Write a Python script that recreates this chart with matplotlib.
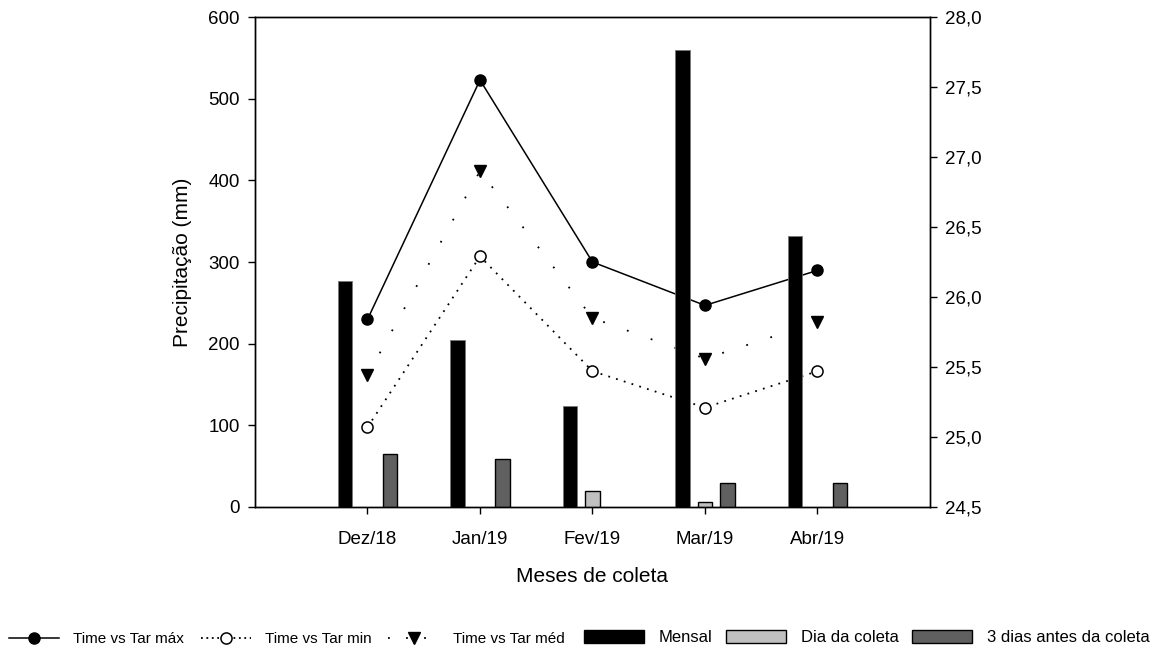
import numpy as np
import matplotlib.pyplot as plt
from matplotlib.lines import Line2D
from matplotlib.patches import Patch

plt.rcParams['font.family'] = ['Liberation Sans', 'DejaVu Sans']

meses = ['Dez/18', 'Jan/19', 'Fev/19', 'Mar/19', 'Abr/19']

# precipitacao (mm)
mensal = [277, 204, 124, 560, 332]
dia_coleta = [0, 0, 19, 6, 0]
tres_dias = [65, 59, 0, 29, 29]

# temperatura do ar
tar_max = [25.84, 27.55, 26.25, 25.94, 26.19]
tar_min = [25.07, 26.29, 25.47, 25.21, 25.47]
tar_med = [25.44, 26.90, 25.85, 25.56, 25.82]

yticks_left = [0, 100, 200, 300, 400, 500, 600]
yticks_right = [24.5, 25.0, 25.5, 26.0, 26.5, 27.0, 27.5, 28.0]
yticklabels_right = ['24,5', '25,0', '25,5', '26,0', '26,5', '27,0', '27,5', '28,0']

x = np.arange(len(meses))
w = 0.13

fig = plt.figure(figsize=(11.58, 6.47), dpi=100)
ax = fig.add_axes([0.2202, 0.2164, 0.5829, 0.7573])
ax2 = ax.twinx()

# lines on the right axis (drawn under the bars)
ax2.plot(x, tar_max, color='black', lw=1.1, marker='o', ms=8,
         mfc='black', mec='black')
ax2.plot(x, tar_min, color='black', lw=1.3, ls=(0, (1, 3.5)), marker='o', ms=8,
         mfc='white', mec='black', mew=1.1)
ax2.plot(x, tar_med, color='black', lw=1.3, ls=(0, (1, 13)), marker='v', ms=9,
         mfc='black', mec='black')

# bars on the left axis, on top
ax.set_zorder(ax2.get_zorder() + 1)
ax.patch.set_visible(False)
ax.bar(x - 0.2, mensal, w, color='black', edgecolor='#777777', lw=0.6)
ax.bar(x, dia_coleta, w, color='#c0c0c0', edgecolor='black',
       lw=[1 if v > 0 else 0 for v in dia_coleta])
ax.bar(x + 0.2, tres_dias, w, color='#606060', edgecolor='black',
       lw=[1 if v > 0 else 0 for v in tres_dias])

ax.set_xlim(-1, 5)
ax.set_ylim(0, 600)
ax.set_yticks(yticks_left)
ax.set_xticks(x)
ax.set_xticklabels(meses)
ax2.set_ylim(24.5, 28.0)
ax2.set_yticks(yticks_right)
ax2.set_yticklabels(yticklabels_right)

for a in (ax, ax2):
    a.tick_params(direction='out', length=5, width=1, labelsize=13.5, colors='black')
    for s in a.spines.values():
        s.set_linewidth(1)
ax.tick_params(axis='x', pad=12)
ax.tick_params(axis='y', pad=6)
ax2.tick_params(axis='y', pad=6)

ax.set_ylabel('Precipitação (mm)', fontsize=15, labelpad=12)
ax.set_xlabel('Meses de coleta', fontsize=15, labelpad=14)

# legends
line_handles = [
    Line2D([], [], color='black', lw=1.1, marker='o', ms=8, mfc='black'),
    Line2D([], [], color='black', lw=1.3, ls=(0, (1, 2)), marker='o', ms=8,
           mfc='white', mew=1.1),
    Line2D([], [], color='black', lw=1.3, ls=(0, (1, 9)), marker='v', ms=9,
           mfc='black'),
]
line_labels = ['Time vs Tar máx', 'Time vs Tar min', 'Time vs Tar méd']
fig.legend(line_handles, line_labels, loc='lower left',
           bbox_to_anchor=(-0.0015, -0.015), ncol=3, frameon=False,
           fontsize=11, handlelength=3.3, handletextpad=0.9,
           columnspacing=1.1, borderaxespad=0.3)

bar_handles = [
    Patch(facecolor='black', edgecolor='black'),
    Patch(facecolor='#c0c0c0', edgecolor='black'),
    Patch(facecolor='#606060', edgecolor='black'),
]
bar_labels = ['Mensal', 'Dia da coleta', '3 dias antes da coleta']
fig.legend(bar_handles, bar_labels, loc='lower left',
           bbox_to_anchor=(0.494, -0.015), ncol=3, frameon=False,
           fontsize=12, handlelength=3.6, handleheight=0.85, handletextpad=0.9,
           columnspacing=0.8, borderaxespad=0.3)

fig.savefig('out.png', dpi=100)
